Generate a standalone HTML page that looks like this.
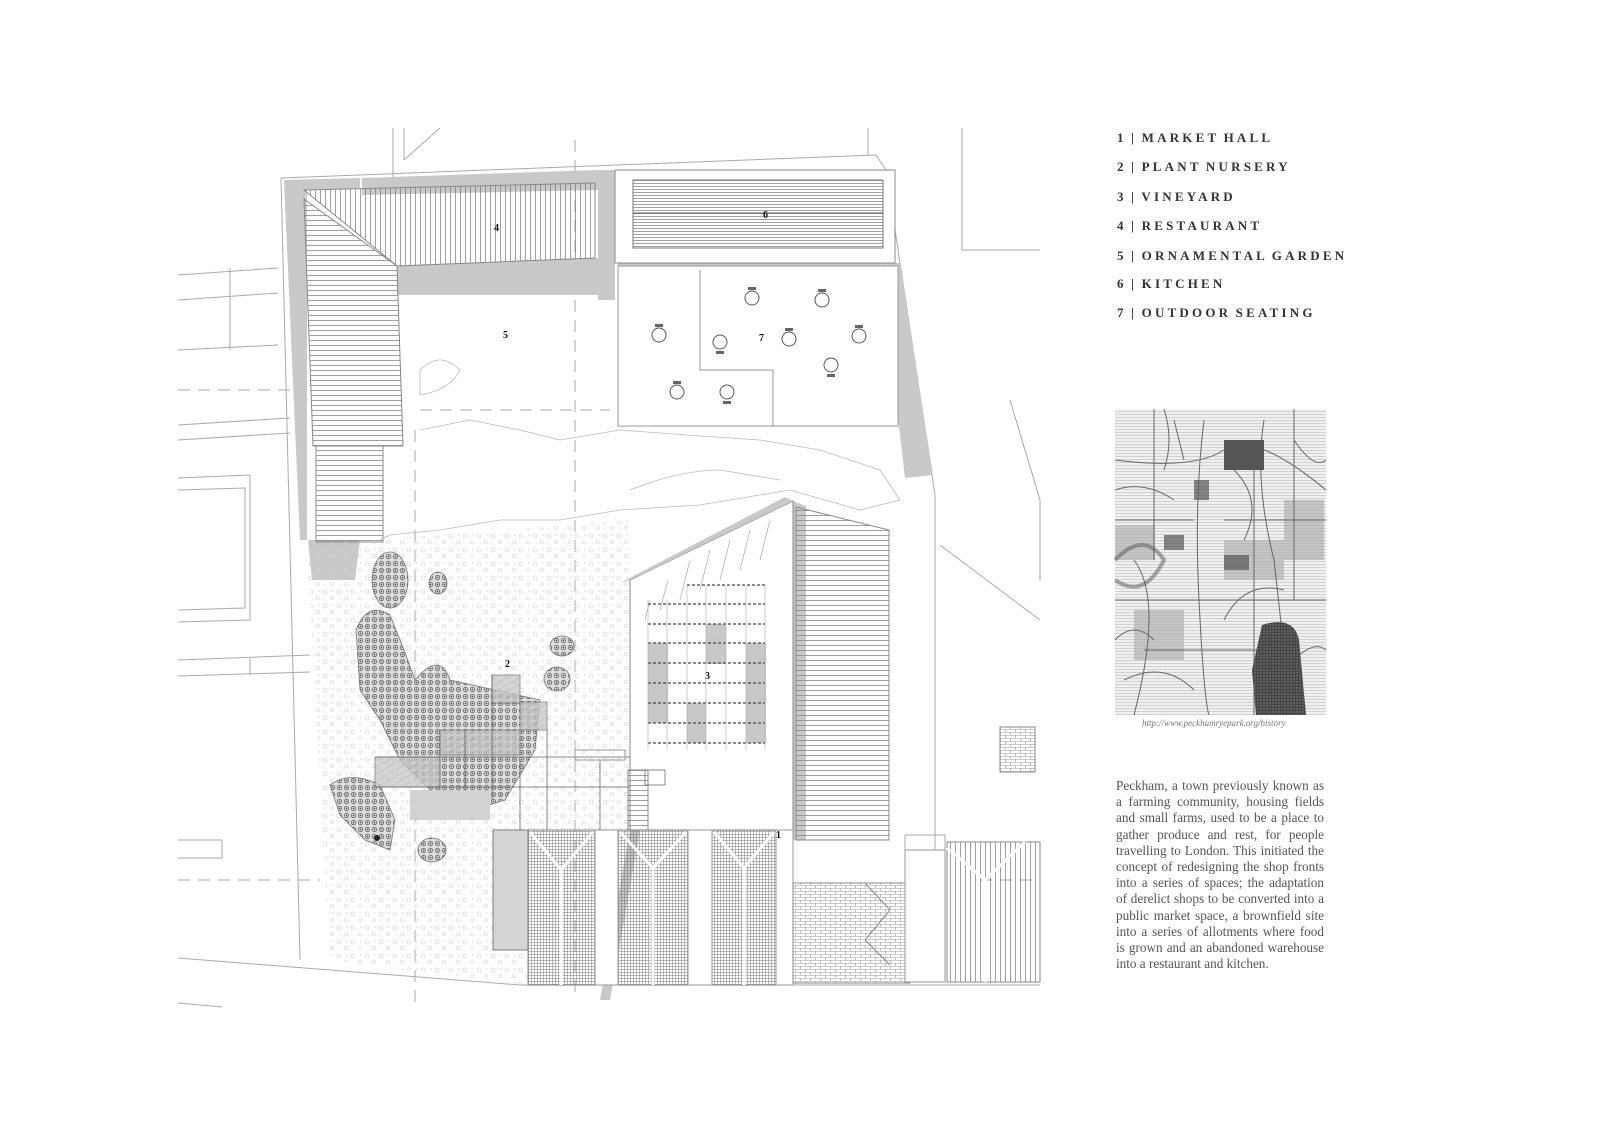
<!DOCTYPE html>
<html><head><meta charset="utf-8"><style>
html,body{margin:0;padding:0;background:#fff;}
body{width:1600px;height:1132px;position:relative;overflow:hidden;font-family:"Liberation Serif",serif;}
.leg{position:absolute;left:1117px;font-weight:bold;font-size:13px;letter-spacing:3.2px;color:#333;word-spacing:-2px;}
.para{position:absolute;left:1116px;top:778px;width:208px;font-size:13.2px;line-height:16.2px;color:#555;text-align:justify;}
.cap{position:absolute;left:1142px;top:718px;font-size:9px;font-style:italic;color:#777;}
</style></head><body>
<svg width="1600" height="1132" style="position:absolute;left:0;top:0">
<defs>
<pattern id="hl" width="6" height="5" patternUnits="userSpaceOnUse"><line x1="0" y1="0.5" x2="6" y2="0.5" stroke="#777" stroke-width="0.7"/></pattern>
<pattern id="vl" width="5" height="6" patternUnits="userSpaceOnUse"><line x1="0.5" y1="0" x2="0.5" y2="6" stroke="#777" stroke-width="0.7"/></pattern>
<pattern id="hd" width="6" height="3" patternUnits="userSpaceOnUse"><line x1="0" y1="0.5" x2="6" y2="0.5" stroke="#666" stroke-width="0.6"/></pattern>
<pattern id="grid" width="3" height="3" patternUnits="userSpaceOnUse"><path d="M0 0.5H3M0.5 0V3" stroke="#777" stroke-width="0.5"/></pattern>
<pattern id="brick" width="10" height="6" patternUnits="userSpaceOnUse"><path d="M0 0.5H10M0 3.5H10M0.5 0V3M5.5 3V6" stroke="#999" stroke-width="0.6"/></pattern>
<pattern id="dots" width="7" height="7" patternUnits="userSpaceOnUse"><rect width="7" height="7" fill="#ddd"/><circle cx="3.5" cy="3.5" r="2.2" fill="none" stroke="#666" stroke-width="0.8"/><circle cx="3.5" cy="3.5" r="0.9" fill="#555"/></pattern>
<pattern id="speck" width="14" height="14" patternUnits="userSpaceOnUse"><circle cx="3" cy="4" r="2" fill="none" stroke="#ccc" stroke-width="0.6"/><circle cx="10" cy="10" r="1.5" fill="none" stroke="#d3d3d3" stroke-width="0.6"/><circle cx="11" cy="3" r="0.6" fill="#bbb"/></pattern>
<pattern id="diag" width="6" height="6" patternUnits="userSpaceOnUse" patternTransform="rotate(60)"><rect width="6" height="6" fill="#c8c8c8"/><line x1="0" y1="0" x2="0" y2="6" stroke="#aaa" stroke-width="1.5"/></pattern>
<pattern id="maph" width="4" height="3" patternUnits="userSpaceOnUse"><rect width="4" height="3" fill="#f0f0f0"/><line x1="0" y1="0.5" x2="4" y2="0.5" stroke="#bbb" stroke-width="0.6"/></pattern>
<pattern id="mapd" width="3" height="3" patternUnits="userSpaceOnUse"><rect width="3" height="3" fill="#444"/><circle cx="1" cy="1" r="0.7" fill="#888"/></pattern>
</defs>
<g fill="none" stroke="#aaa" stroke-width="1">
<path d="M178 275 L278 268 M178 300 L278 293 M230 268 V350 M178 350 L278 345"/>
<path d="M178 425 L290 418 M178 440 L290 433"/>
<path d="M178 478 L250 475 V620 L178 622 M178 490 L245 488 V608 L178 610"/>
<path d="M178 660 L310 655 M178 676 L310 672 M250 657 V675"/>
<path d="M178 840 L222 840 V858 L178 858"/>
<path d="M178 1003 L222 1007"/>
<path d="M393 128 V180 M404 160 L440 128 M404 128 V160 M868 128 V155"/>
<path d="M962 128 V250 L1040 250 M1010 400 L1040 500 M1040 500 V580"/>
<path d="M935 495 V960 M940 545 L1040 620"/>
<path d="M281 178 L876 155 L886 170 L935 495 M281 178 L300 960"/>
<path d="M178 958 L520 985 M520 985 H1040"/>
<path d="M905 835 H945 V965 M905 835 V965" />
<path stroke-dasharray="12 8" d="M415 430 V1010 M575 140 V1000 M178 390 L300 390 M178 880 L320 880 M420 410 L610 410 M980 880 L1040 880"/>
</g>
<g fill="#c9c9c9">
<polygon points="284,180 360,178 360,188 307,190 307,540 300,540"/>
<polygon points="362,178 598,170 598,190 362,195"/>
<polygon points="598,170 615,170 615,300 598,300"/>
<polygon points="397,266 598,258 598,295 397,295"/>
<polygon points="880,263 900,263 933,475 905,478"/>
<polygon points="618,262 880,263 880,270 618,272"/>
<polygon points="793,501 806,506 806,840 793,840"/>
<polygon points="308,540 360,540 355,580 312,580"/>
<polygon points="630,830 640,830 610,1000 600,1000"/>
</g>
<polygon points="304,190 595,183 595,258 397,266" fill="url(#vl)" stroke="#888"/>
<polygon points="304,199 397,266 403,446 313,446" fill="url(#hl)" stroke="#888"/>
<rect x="316" y="446" width="67" height="96" fill="url(#hl)" stroke="#888"/>
<rect x="615" y="170" width="280" height="93" fill="#fff" stroke="#888"/>
<rect x="633" y="180" width="250" height="68" fill="url(#hd)" stroke="#777"/>
<line x1="633" y1="213" x2="883" y2="213" stroke="#555"/>
<rect x="618" y="266" width="280" height="160" fill="#fff" stroke="#999"/>
<path d="M700 270 V370 H773 V426" fill="none" stroke="#999"/>
<g fill="#fff" stroke="#555" stroke-width="1">
<circle cx="752" cy="298" r="7"/><circle cx="822" cy="300" r="7"/><circle cx="659" cy="335" r="7"/><circle cx="720" cy="342" r="7"/><circle cx="789" cy="339" r="7"/><circle cx="859" cy="336" r="7"/><circle cx="831" cy="365" r="7"/><circle cx="677" cy="392" r="7"/><circle cx="727" cy="392" r="7"/>
</g>
<g fill="#666">
<rect x="748" y="287" width="8" height="3"/><rect x="818" y="289" width="8" height="3"/><rect x="655" y="324" width="8" height="3"/><rect x="716" y="351" width="8" height="3"/><rect x="785" y="328" width="8" height="3"/><rect x="855" y="325" width="8" height="3"/><rect x="827" y="374" width="8" height="3"/><rect x="673" y="381" width="8" height="3"/><rect x="723" y="401" width="8" height="3"/>
</g>
<g fill="none" stroke="#bbb" stroke-width="0.8">
<path d="M420 430 L470 420 L520 430 L560 440 L620 430 L700 436 L760 440 L820 450 L880 470 L900 500 L860 510 L790 490 L700 505 L620 510 L560 520 L500 520 L440 530 L390 535 L380 540"/>
<path d="M420 370 Q440 350 460 370 Q450 390 420 395 Z"/>
<path d="M630 490 Q680 470 720 470 L780 480"/>
</g>
<polygon points="307,545 630,520 630,830 528,830 528,985 330,960" fill="url(#speck)"/>
<g fill="url(#dots)" stroke="#777" stroke-width="0.8">
<ellipse cx="390" cy="580" rx="18" ry="28"/>
<ellipse cx="438" cy="583" rx="9" ry="11"/>
<path d="M356 630 Q368 600 390 615 L404 650 L415 680 Q440 650 450 680 L540 700 L535 750 L505 800 L440 820 L430 790 L400 760 L380 720 L360 690 Z"/>
<ellipse cx="562" cy="646" rx="12" ry="10"/>
<ellipse cx="557" cy="679" rx="13" ry="12"/>
<path d="M330 785 Q350 770 380 785 L395 820 L390 850 L365 840 L340 815 Z"/>
<ellipse cx="432" cy="850" rx="14" ry="12"/>
</g>
<g fill="url(#diag)" stroke="#666" stroke-width="0.8" opacity="0.75">
<rect x="492" y="675" width="28" height="28"/><rect x="520" y="702" width="27" height="28"/>
<rect x="440" y="730" width="80" height="25"/><rect x="375" y="757" width="65" height="30"/>
</g>
<g fill="none" stroke="#666" stroke-width="0.8">
<path d="M492 675 V800 M465 730 V800 M440 730 V800 M375 757 H630 M375 787 H630 M520 760 V830 M547 730 V830 M600 760 V830"/>
<rect x="493" y="830" width="35" height="120" fill="#d5d5d5"/>
</g>
<rect x="410" y="790" width="80" height="30" fill="#d2d2d2"/>
<circle cx="377" cy="838" r="3" fill="#222"/>
<rect x="575" y="750" width="50" height="10" fill="none" stroke="#999"/>
<polygon points="630,580 793,501 793,830 630,830" fill="#fff" stroke="#888"/>
<polygon points="620,583 785,497 793,501 630,580" fill="#c9c9c9"/>
<g stroke="#aaa" stroke-width="0.7">
<path d="M650 600 L645 620 M668 580 L660 610 M690 560 L680 600 M710 550 L700 590 M730 540 L720 580 M750 530 L740 570 M770 520 L760 560"/>
</g>
<g fill="#bbb" opacity="0.8">
<rect x="648" y="643" width="20" height="80"/><rect x="706" y="624" width="20" height="40"/><rect x="746" y="643" width="20" height="100"/><rect x="687" y="703" width="19" height="40"/>
</g>
<g stroke="#444" stroke-width="1.2" stroke-dasharray="3 2">
<path d="M687 585 H765 M648 604 H765 M648 624 H765 M648 643 H765 M648 663 H765 M648 683 H765 M648 703 H765 M648 723 H765 M648 743 H765"/>
</g>
<g stroke="#aaa" stroke-width="0.6">
<path d="M648 600 V750 M667 600 V750 M687 585 V750 M706 585 V750 M726 585 V750 M746 585 V750 M765 585 V750"/>
</g>
<rect x="628" y="770" width="20" height="60" fill="url(#hl)" stroke="#888"/>
<rect x="645" y="770" width="20" height="15" fill="none" stroke="#888"/>
<polygon points="796,507 889,530 889,840 796,840" fill="url(#hl)" stroke="#888"/>
<rect x="1000" y="727" width="35" height="45" fill="url(#brick)" stroke="#888"/>
<g stroke="#777" stroke-width="0.8">
<rect x="528" y="830" width="67" height="155" fill="url(#grid)"/>
<rect x="618" y="830" width="70" height="155" fill="url(#grid)"/>
<rect x="712" y="830" width="64" height="155" fill="url(#grid)"/>
</g>
<g stroke="#fff" stroke-width="3" fill="none">
<path d="M530 832 L561 870 L593 832 M561 870 V985 M620 832 L653 868 L686 832 M653 868 V985 M714 832 L744 868 L774 832 M744 868 V985"/>
</g>
<rect x="595" y="830" width="23" height="155" fill="#fff" stroke="#999"/>
<rect x="688" y="830" width="24" height="155" fill="#fff" stroke="#999"/>
<rect x="776" y="830" width="17" height="155" fill="#fff" stroke="#999"/>
<rect x="793" y="883" width="117" height="100" fill="url(#brick)" stroke="#888"/>
<path d="M865 883 L890 910 L865 940 L890 965" fill="none" stroke="#888"/>
<rect x="905" y="850" width="40" height="132" fill="#fff" stroke="#999"/>
<rect x="947" y="842" width="93" height="140" fill="url(#vl)" stroke="#888"/>
<path d="M947 848 L985 880 L1025 842 M985 880 V982" stroke="#fff" stroke-width="3" fill="none"/>
<g font-family="Liberation Serif" font-weight="bold" font-size="10" fill="#111">
<text x="494" y="231">4</text><text x="763" y="218">6</text><text x="503" y="338">5</text><text x="759" y="341">7</text><text x="505" y="667">2</text><text x="705" y="679">3</text><text x="776" y="838">1</text>
</g>
<g transform="translate(-6,0)">
<rect x="1121" y="409" width="211" height="306" fill="url(#maph)"/>
<g fill="#aaa" opacity="0.6"><rect x="1121" y="525" width="40" height="35"/><rect x="1290" y="500" width="40" height="60"/><rect x="1140" y="610" width="50" height="50"/><rect x="1230" y="540" width="60" height="40"/></g>
<g fill="none" stroke="#666" stroke-width="1">
<path d="M1121 460 Q1200 470 1230 450 T1332 490 M1210 420 Q1200 500 1205 600 T1215 715 M1140 560 Q1170 600 1140 715 M1180 420 L1190 460 M1270 420 Q1260 480 1280 560 L1290 650"/>
<path d="M1121 520 H1200 M1121 600 H1332 M1230 520 H1332 M1150 650 H1300 M1260 440 V715 M1160 409 V560 M1300 409 V600"/>
<path d="M1121 490 Q1150 480 1180 500 M1130 680 Q1170 660 1200 690 M1230 620 Q1250 580 1290 590 M1300 660 Q1320 640 1332 650 M1170 409 Q1180 440 1170 470 M1121 640 Q1140 620 1160 640 M1240 470 Q1270 500 1250 540 M1300 440 Q1320 470 1332 460"/>
<path d="M1121 560 Q1150 530 1170 560 Q1150 600 1121 580" stroke="#555" stroke-width="4" opacity="0.5"/>
</g>
<g fill="#555"><rect x="1230" y="440" width="40" height="30"/><rect x="1200" y="480" width="15" height="20" opacity="0.7"/><rect x="1230" y="555" width="25" height="15" opacity="0.7"/><rect x="1170" y="535" width="20" height="15" opacity="0.7"/></g>
<path d="M1268 625 Q1300 615 1305 640 L1312 715 L1262 715 L1258 670 Z" fill="url(#mapd)"/>
</g>
</svg>
<div class="leg" style="top:130px">1 | MARKET HALL</div>
<div class="leg" style="top:159px">2 | PLANT NURSERY</div>
<div class="leg" style="top:189px">3 | VINEYARD</div>
<div class="leg" style="top:218px">4 | RESTAURANT</div>
<div class="leg" style="top:248px">5 | ORNAMENTAL GARDEN</div>
<div class="leg" style="top:276px">6 | KITCHEN</div>
<div class="leg" style="top:305px">7 | OUTDOOR SEATING</div>
<div class="cap">http://www.peckhamryepark.org/history</div>
<div class="para">Peckham, a town previously known as a farming community, housing fields and small farms, used to be a place to gather produce and rest, for people travelling to London. This initiated the concept of redesigning the shop fronts into a series of spaces; the adaptation of derelict shops to be converted into a public market space, a brownfield site into a series of allotments where food is grown and an abandoned warehouse into a restaurant and kitchen.</div>
</body></html>
